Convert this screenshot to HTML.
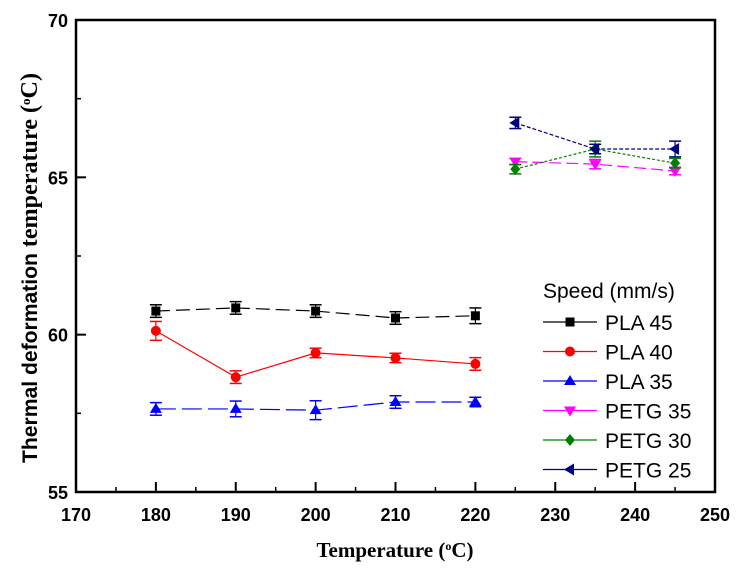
<!DOCTYPE html>
<html><head><meta charset="utf-8"><style>
html,body{margin:0;padding:0;background:#fff;width:736px;height:575px;overflow:hidden}
svg text{font-family:"Liberation Sans",Arial,sans-serif}
</style></head><body>
<svg id="chart" width="736" height="575" viewBox="0 0 736 575" xmlns="http://www.w3.org/2000/svg"></svg>
<script>
const plaX = [180, 190, 200, 210, 220];
const petgX = [225, 235, 245];
const pla45 = [60.75, 60.85, 60.75, 60.53, 60.6];
const pla45Err = [0.2, 0.2, 0.2, 0.2, 0.25];
const pla40 = [60.12, 58.65, 59.42, 59.26, 59.07];
const pla40Err = [0.3, 0.2, 0.15, 0.15, 0.2];
const pla35 = [57.64, 57.64, 57.6, 57.86, 57.86];
const pla35Err = [0.2, 0.25, 0.3, 0.2, 0.15];
const petg35 = [65.5, 65.42, 65.2];
const petg35Err = [0.1, 0.15, 0.12];
const petg30 = [65.26, 65.9, 65.45];
const petg30Err = [0.15, 0.25, 0.15];
const petg25 = [66.73, 65.9, 65.9];
const petg25Err = [0.18, 0.15, 0.25];
const xTicks = [170, 180, 190, 200, 210, 220, 230, 240, 250];
const yTicks = [55, 60, 65, 70];
const legendLabels = ["PLA 45", "PLA 40", "PLA 35", "PETG 35", "PETG 30", "PETG 25"];

const NS = "http://www.w3.org/2000/svg";
const svg = document.getElementById("chart");
const X0 = 76, X1 = 715, Y0 = 492, Y1 = 20;
const xs = v => X0 + (v - 170) / 80 * (X1 - X0);
const ys = v => Y0 - (v - 55) / 15 * (Y0 - Y1);
function mk(tag, attrs, parent) {
  const e = document.createElementNS(NS, tag);
  for (const k in attrs) e.setAttribute(k, attrs[k]);
  (parent || svg).appendChild(e);
  return e;
}
const frame = mk("rect", {x: X0, y: Y1, width: X1 - X0, height: Y0 - Y1, fill: "none", stroke: "#000", "stroke-width": 2.5});


xTicks.forEach((t, i) => {
  const x = xs(t);
  const tk = mk("line", {x1: x, x2: x, y1: Y0, y2: Y0 - 10, stroke: "#000", "stroke-width": 2});
  
  
  if (i < xTicks.length - 1) {
    mk("line", {x1: xs(t + 5), x2: xs(t + 5), y1: Y0, y2: Y0 - 5, stroke: "#000", "stroke-width": 1.5});
  }
  const lb = mk("text", {x: x, y: 521, "text-anchor": "middle", "font-size": 18, "font-weight": "bold"});
  lb.textContent = t;
  
  
});
yTicks.forEach((t, i) => {
  const y = ys(t);
  const tk = mk("line", {x1: X0, x2: X0 + 10, y1: y, y2: y, stroke: "#000", "stroke-width": 2});
  
  
  if (i < yTicks.length - 1) {
    mk("line", {x1: X0, x2: X0 + 5, y1: ys(t + 2.5), y2: ys(t + 2.5), stroke: "#000", "stroke-width": 1.5});
  }
  const lb = mk("text", {x: X0 - 8, y: y + 7, "text-anchor": "end", "font-size": 18, "font-weight": "bold"});
  lb.textContent = t;
  
  
});
const xt = mk("text", {x: 395, y: 557, "text-anchor": "middle", "font-size": 21, "font-weight": "bold", style: "font-family:'Liberation Serif',serif"});
xt.innerHTML = 'Temperature (<tspan baseline-shift="super" font-size="12">o</tspan>C)';


const yt = mk("text", {x: 0, y: 0, "text-anchor": "middle", "font-size": 21, "font-weight": "bold", transform: "translate(37,268) rotate(-90)", textLength: 390, lengthAdjust: "spacingAndGlyphs"});
yt.innerHTML = 'Thermal deformation <tspan font-size="24" style="font-family:\'Liberation Serif\',serif">temperature (<tspan baseline-shift="super" font-size="13">o</tspan>C)</tspan>';



function marker(shape, cx, cy, color, g) {
  if (shape === "sq") return mk("rect", {x: cx - 4.5, y: cy - 4.5, width: 9, height: 9, fill: color}, g);
  if (shape === "ci") return mk("circle", {cx, cy, r: 5, fill: color}, g);
  if (shape === "up") return mk("polygon", {points: `${cx},${cy - 6} ${cx - 6},${cy + 4} ${cx + 6},${cy + 4}`, fill: color}, g);
  if (shape === "dn") return mk("polygon", {points: `${cx},${cy + 6} ${cx - 6},${cy - 4} ${cx + 6},${cy - 4}`, fill: color}, g);
  if (shape === "di") return mk("polygon", {points: `${cx},${cy - 6} ${cx + 5},${cy} ${cx},${cy + 6} ${cx - 5},${cy}`, fill: color}, g);
  if (shape === "le") return mk("polygon", {points: `${cx - 6},${cy} ${cx + 4},${cy - 6} ${cx + 4},${cy + 6}`, fill: color}, g);
}
const series = [
  {xv: plaX, yv: pla45, ev: pla45Err, c: "#000", sh: "sq", dash: "14,6", name: "series-pla-45"},
  {xv: plaX, yv: pla40, ev: pla40Err, c: "#f00", sh: "ci", dash: "none", name: "series-pla-40"},
  {xv: plaX, yv: pla35, ev: pla35Err, c: "#0000ff", sh: "up", dash: "20,6", name: "series-pla-35"},
  {xv: petgX, yv: petg35, ev: petg35Err, c: "#ff00ff", sh: "dn", dash: "12,5", name: "series-petg-35"},
  {xv: petgX, yv: petg30, ev: petg30Err, c: "#008000", sh: "di", dash: "3,2", name: "series-petg-30"},
  {xv: petgX, yv: petg25, ev: petg25Err, c: "#000080", sh: "le", dash: "4,2", name: "series-petg-25"}
];
series.forEach(s => {
  const g = mk("g", {});
  
  
  const pts = s.xv.map((x, i) => xs(x) + "," + ys(s.yv[i])).join(" ");
  mk("polyline", {points: pts, fill: "none", stroke: s.c, "stroke-width": 1.2, "stroke-dasharray": s.dash}, g);
  s.xv.forEach((x, i) => {
    const cx = xs(x), ya = ys(s.yv[i] + s.ev[i]), yb = ys(s.yv[i] - s.ev[i]);
    mk("line", {x1: cx, x2: cx, y1: ya, y2: yb, stroke: s.c, "stroke-width": 1.2}, g);
    mk("line", {x1: cx - 6, x2: cx + 6, y1: ya, y2: ya, stroke: s.c, "stroke-width": 1.5}, g);
    mk("line", {x1: cx - 6, x2: cx + 6, y1: yb, y2: yb, stroke: s.c, "stroke-width": 1.5}, g);
    const m = marker(s.sh, cx, ys(s.yv[i]), s.c, g);
    
    
  });
});
const lg = mk("g", {});


const lt = mk("text", {x: 543, y: 298, "font-size": 21}, lg);
lt.textContent = "Speed (mm/s)";


legendLabels.forEach((lab, i) => {
  const y = 322 + i * 29.5, s = series[i];
  const e = mk("g", {}, lg);
  
  
  mk("line", {x1: 543, x2: 597, y1: y, y2: y, stroke: s.c, "stroke-width": 1.3}, e);
  marker(s.sh, 570, y, s.c, e);
  const t = mk("text", {x: 605, y: y + 8, "font-size": 21}, e);
  t.textContent = lab;
});
</script>
</body></html>
